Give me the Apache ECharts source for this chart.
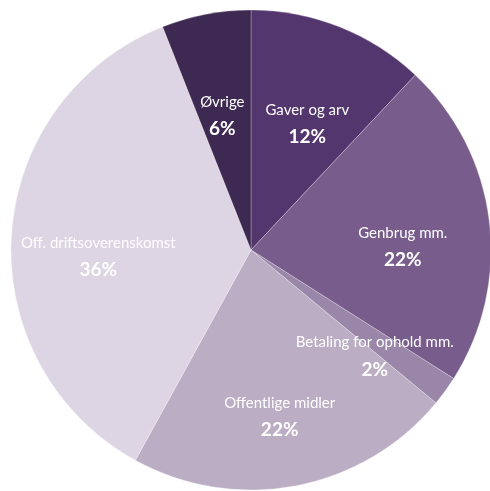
<!DOCTYPE html>
<html>
<head>
<meta charset="utf-8">
<script src="https://cdn.jsdelivr.net/npm/echarts@6/dist/echarts.min.js"></script>
<style>
html,body{margin:0;padding:0;background:#fff;}
#chart{width:490px;height:491px;}
</style>
</head>
<body>
<div id="chart"></div>
<script>
// kategorier og andele (%)
var categories = ['Gaver og arv', 'Genbrug mm.', 'Betaling for ophold mm.', 'Offentlige midler', 'Off. driftsoverenskomst', 'Øvrige'];
var shares = [12, 22, 2, 22, 36, 6];
var colors = ['#54366e', '#775c8c', '#9a86a9', '#bbadc4', '#ddd5e3', '#3e2952'];

var myChart = echarts.init(document.getElementById('chart'));

var pieData = categories.map(function (c, i) {
	return { name: c, value: shares[i], itemStyle: { color: colors[i] } };
});

var option = {
	animation: false,
	series: [{
		type: 'pie',
		center: [251, 250],
		radius: [0, 240],
		startAngle: 90,
		clockwise: true,
		silent: true,
		label: { show: false },
		labelLine: { show: false },
		itemStyle: {
			borderColor: 'rgba(255,255,255,0.25)',
			borderWidth: 1
		},
		data: pieData
	}, {
		// kun til etiketter, skubbet lidt ud fra centrum
		type: 'pie',
		center: [251, 250],
		radius: [60, 240],
		startAngle: 90,
		clockwise: true,
		silent: true,
		itemStyle: { color: 'rgba(0,0,0,0)' },
		labelLine: { show: false },
		label: {
			show: true,
			position: 'inside',
			padding: [32, 0, 0, 0],
			formatter: '{n|{b}}\n{p|{c}%}',
			rich: {
				n: {
					color: '#fff',
					fontFamily: 'Lato',
					fontSize: 15,
					lineHeight: 27
				},
				p: {
					color: '#fff',
					fontFamily: 'Lato',
					fontWeight: 'bold',
					fontSize: 19,
					lineHeight: 27
				}
			}
		},
		data: categories.map(function (c, i) {
			return { name: c, value: shares[i] };
		})
	}]
};

myChart.setOption(option);
</script>
</body>
</html>
